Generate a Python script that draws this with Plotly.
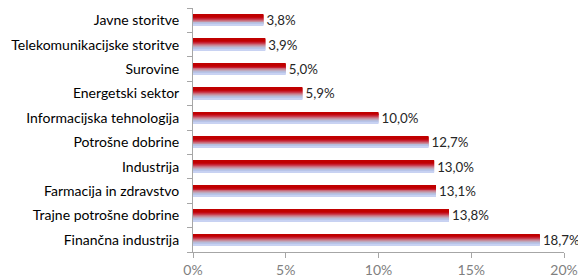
import plotly.graph_objects as go

# Data (bottom to top as drawn)
categories = ["Finančna industrija", "Trajne potrošne dobrine", "Farmacija in zdravstvo",
              "Industrija", "Potrošne dobrine", "Informacijska tehnologija",
              "Energetski sektor", "Surovine", "Telekomunikacijske storitve", "Javne storitve"]
values = [18.7, 13.8, 13.1, 13.0, 12.7, 10.0, 5.9, 5.0, 3.9, 3.8]
x_ticks = [0, 5, 10, 15, 20]
x_tick_labels = ["0%", "5%", "10%", "15%", "20%"]

labels = [f"{v:.1f}".replace(".", ",") + "%" for v in values]

# gradient stripes, top to bottom
stripe_colors = ["#c00000", "#c00000", "#c00000", "#c20810", "#c62030", "#c94050",
                 "#c96a7a", "#c68c9c", "#c0a8bc", "#b8bcd8", "#b8c4e8", "#c8d2f2"]
bar_w = 0.46
n = len(stripe_colors)
sw = bar_w / n

fig = go.Figure()
for i, c in enumerate(stripe_colors):
    off = bar_w / 2 - (i + 1) * sw
    fig.add_trace(go.Bar(
        y=categories, x=values, orientation="h",
        width=sw * 1.02, offset=off,
        marker=dict(color=c, line=dict(width=0)),
        hoverinfo="skip", showlegend=False,
    ))

fig.add_trace(go.Bar(
    y=categories, x=values, orientation="h", width=bar_w, offset=-bar_w / 2,
    marker=dict(color="rgba(0,0,0,0)", line=dict(width=0)),
    text=labels, texttemplate="%{text}",
    textposition="outside", cliponaxis=False, constraintext="none",
    textfont=dict(family="Lato, sans-serif", size=13.3, color="#262626"),
    showlegend=False,
))

fig.update_layout(
    barmode="overlay",
    width=578, height=269,
    margin=dict(l=185, r=22, t=0, b=25, autoexpand=False),
    paper_bgcolor="white", plot_bgcolor="white",
    font=dict(family="Lato, sans-serif", size=14, color="#262626"),
)
fig.update_xaxes(
    range=[0, 20], tickvals=x_ticks, ticktext=x_tick_labels,
    showgrid=False, zeroline=False, automargin=False,
    showline=True, linecolor="#a6a6a6", linewidth=1,
    ticks="outside", ticklen=5, tickcolor="#a6a6a6",
    tickfont=dict(family="Lato, sans-serif", size=14, color="#7f7f7f"),
)
fig.update_yaxes(
    categoryorder="array", categoryarray=categories,
    showgrid=False, zeroline=False, automargin=False,
    showline=True, linecolor="#a6a6a6", linewidth=1,
    ticks="outside", ticklen=5, tickcolor="#a6a6a6", tickson="boundaries",
    tickfont=dict(family="Lato, sans-serif", size=14, color="#000000"),
    ticklabelstandoff=10,
)

fig.write_html("out.html")
